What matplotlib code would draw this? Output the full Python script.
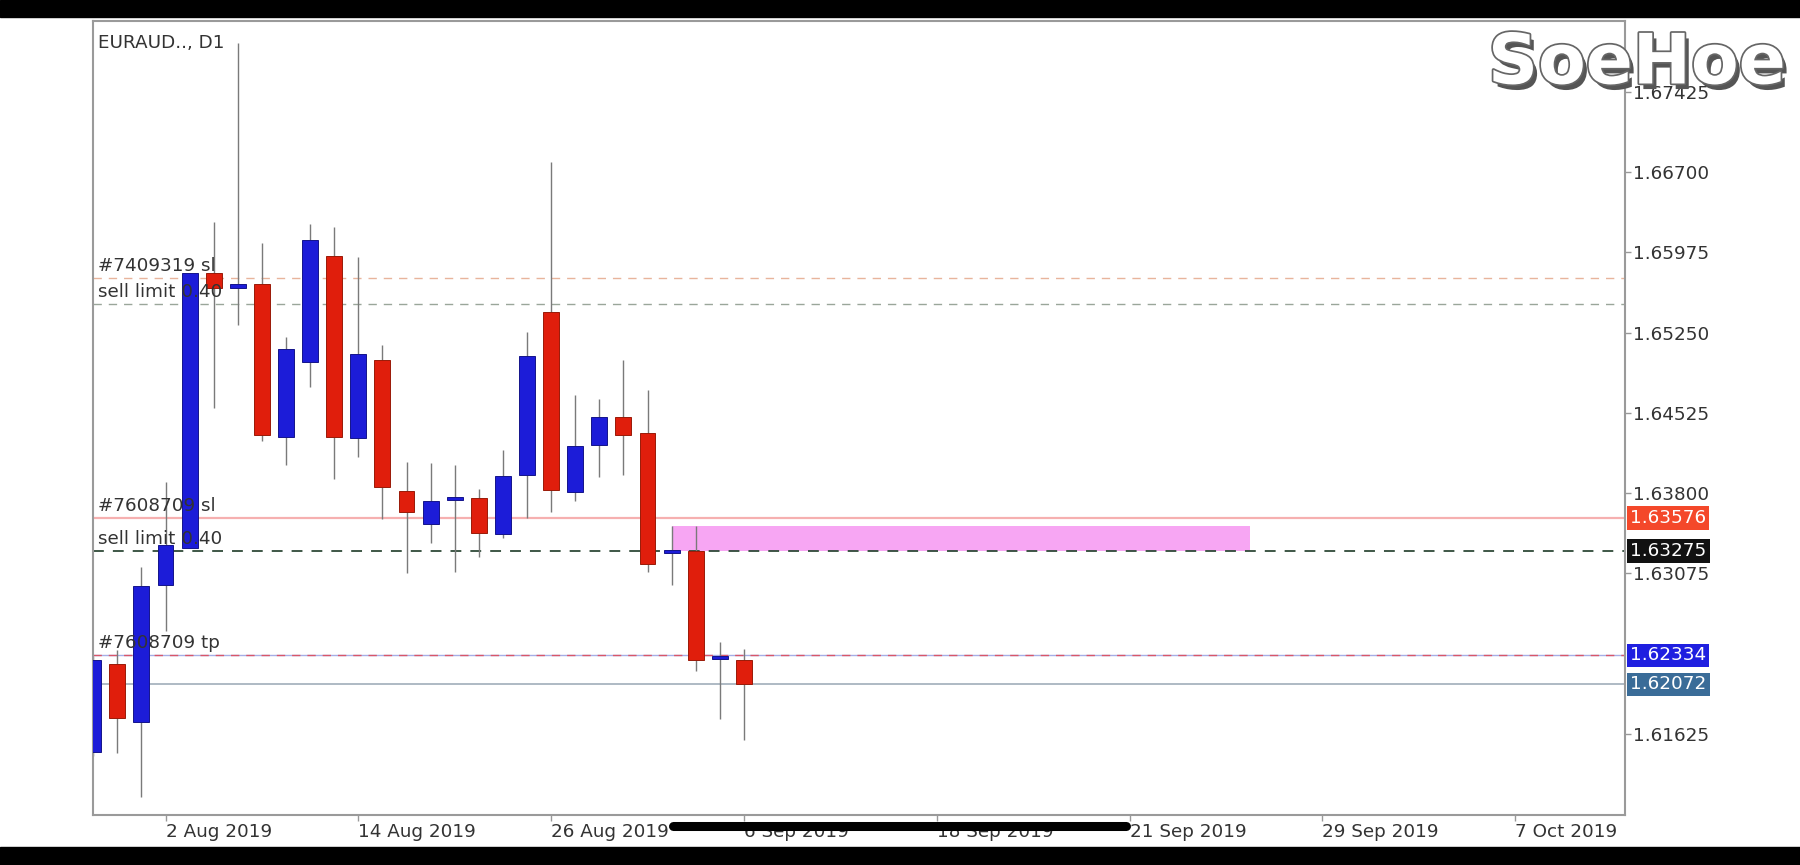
import matplotlib
matplotlib.use("Agg")
import matplotlib.pyplot as plt
import matplotlib.patheffects as pe
from matplotlib.patches import Rectangle
from matplotlib.lines import Line2D
from matplotlib.transforms import blended_transform_factory

# Daily EURAUD candles (one per bar, left to right)
opens = [1.61462, 1.62257, 1.61733, 1.62971, 1.63305, 1.65790, 1.65654, 1.65690,
         1.64308, 1.64986, 1.65943, 1.64299, 1.65004, 1.63820, 1.63522, 1.63739,
         1.63757, 1.63432, 1.63965, 1.65438, 1.63811, 1.64236, 1.64489, 1.64344,
         1.63262, 1.63278, 1.62303, 1.62294]
highs = [1.62330, 1.62384, 1.63134, 1.63902, 1.65790, 1.66251, 1.67868, 1.66061,
         1.65212, 1.66233, 1.66205, 1.65934, 1.65139, 1.64082, 1.64073, 1.64055,
         1.63838, 1.64191, 1.65257, 1.66793, 1.64688, 1.64652, 1.65004, 1.64733,
         1.63504, 1.63504, 1.62456, 1.62393]
lows = [1.61430, 1.61453, 1.61056, 1.62556, 1.63305, 1.64570, 1.65320, 1.64272,
        1.64055, 1.64760, 1.63929, 1.64128, 1.63567, 1.63080, 1.63351, 1.63089,
        1.63224, 1.63396, 1.63576, 1.63631, 1.63730, 1.63947, 1.63965, 1.63089,
        1.62971, 1.62194, 1.61761, 1.61571]
closes = [1.62294, 1.61770, 1.62962, 1.63333, 1.65790, 1.65654, 1.65690, 1.64326,
          1.65103, 1.66088, 1.64308, 1.65058, 1.63856, 1.63631, 1.63730, 1.63766,
          1.63441, 1.63956, 1.65040, 1.63829, 1.64227, 1.64489, 1.64326, 1.63161,
          1.63275, 1.62294, 1.62321, 1.62072]

# Date labels, one every 8 bars starting at bar 3
date_labels = ["2 Aug 2019", "14 Aug 2019", "26 Aug 2019", "6 Sep 2019",
               "18 Sep 2019", "21 Sep 2019", "29 Sep 2019", "7 Oct 2019"]
price_ticks = [1.67425, 1.66700, 1.65975, 1.65250, 1.64525, 1.63800, 1.63075, 1.61625]

# Order levels
level_7409319_sl = 1.65745
level_sell_limit_upper = 1.65510
level_7608709_sl = 1.63576
level_sell_limit = 1.63275
level_7608709_tp = 1.62334
level_bid = 1.62072

# Highlighted zone (bar range and price range)
zone_bars = [24, 48]
zone_prices = [1.63275, 1.63504]

BLUE = "#1c1cd8"
RED = "#e01e0c"
TEXT = "#333333"
FS = 13.2

W, H = 1800, 865
fig = plt.figure(figsize=(W / 100, H / 100), dpi=100)
fig.patch.set_facecolor("white")
ax = fig.add_axes([93 / W, 1 - 815 / H, 1532 / W, 794 / H])

# Zone
ax.add_patch(Rectangle((zone_bars[0], zone_prices[0]), zone_bars[1] - zone_bars[0],
                       zone_prices[1] - zone_prices[0], facecolor="#f7a6f3",
                       edgecolor="none", zorder=1))

# Horizontal levels
ax.axhline(level_7409319_sl, color="#e8b49c", lw=1.0, ls=(0, (6, 5)), zorder=1.5)
ax.axhline(level_sell_limit_upper, color="#9aa69a", lw=1.0, ls=(0, (6, 5)), zorder=1.5)
ax.axhline(level_7608709_sl, color="#f6b0b0", lw=1.6, zorder=1.5)
ax.axhline(level_sell_limit, color="#2f4a38", lw=1.3, ls=(0, (6, 5)), zorder=1.5)
ax.axhline(level_7608709_tp, color="#a6aee6", lw=1.0, zorder=1.5)
ax.axhline(level_7608709_tp, color="#d8566a", lw=1.0, ls=(0, (6, 5)), zorder=1.6)
ax.axhline(level_bid, color="#a8b4bf", lw=1.3, zorder=1.5)

# Candles
bar_x = list(range(len(opens)))
body_bottom = [min(o, c) for o, c in zip(opens, closes)]
body_height = [max(abs(c - o), 0.00025) for o, c in zip(opens, closes)]
face = [BLUE if c >= o else RED for o, c in zip(opens, closes)]
edge = ["#14148a" if c >= o else "#9a1a08" for o, c in zip(opens, closes)]
ax.vlines(bar_x, lows, highs, color="#7a7a7a", lw=1.0, zorder=2)
ax.bar(bar_x, body_height, bottom=body_bottom, width=0.66, color=face,
       edgecolor=edge, linewidth=0.7, zorder=3)

# Level captions on the left
captions = [("#7409319 sl", level_7409319_sl), ("sell limit 0.40", level_sell_limit_upper),
            ("#7608709 sl", level_7608709_sl), ("sell limit 0.40", level_sell_limit),
            ("#7608709 tp", level_7608709_tp)]
for txt, lvl in captions:
    ax.annotate(txt, xy=(0.0033, lvl), xycoords=("axes fraction", "data"),
                xytext=(0, 3), textcoords="offset pixels", va="bottom", ha="left",
                fontsize=FS, color=TEXT, zorder=5)

ax.text(0.003, 0.984, "EURAUD.., D1", transform=ax.transAxes, va="top", ha="left",
        fontsize=FS, color=TEXT)

# Price boxes on the right
bt = blended_transform_factory(ax.transAxes, ax.transData)
boxes = [(level_7608709_sl, "#f4482a"), (level_sell_limit, "#111111"),
         (level_7608709_tp, "#1f1fe0"), (level_bid, "#3a6c98")]
for lvl, col in boxes:
    ax.text(1.0035, lvl, f"{lvl:.5f}", transform=bt, va="center", ha="left",
            fontsize=FS, color="white", zorder=6,
            bbox=dict(boxstyle="square,pad=0.16", fc=col, ec="none"))

# Axes
ax.set_xlim(-0.01, 63.56)
ax.set_ylim(1.60893, 1.68066)
ax.yaxis.tick_right()
ax.set_yticks(price_ticks)
ax.set_yticklabels([f"{p:.5f}" for p in price_ticks])
ax.set_xticks(list(range(3, 3 + 8 * len(date_labels), 8)))
ax.set_xticklabels(date_labels)
for lab in ax.get_xticklabels():
    lab.set_ha("left")
ax.tick_params(axis="both", direction="out", length=4, width=1, color="#999999",
               labelsize=FS, labelcolor=TEXT, pad=1.5)
for s in ax.spines.values():
    s.set_color("#9a9a9a")
    s.set_linewidth(1.5)

# Screen frame: black bands and home indicator
fig.add_artist(Rectangle((0, 1 - 17 / H), 1, 17 / H, transform=fig.transFigure,
                         color="black", zorder=10))
fig.add_artist(Rectangle((0, 0), 1, 18 / H, transform=fig.transFigure,
                         color="black", zorder=10))
fig.add_artist(Line2D([673 / W, 1126 / W], [1 - 826 / H] * 2, transform=fig.transFigure,
                      color="black", lw=6.5, solid_capstyle="round", zorder=10))

# Watermark
fig.text(1637 / W, 1 - 64 / H, "SoeHoe", ha="center", va="center", fontsize=50,
         fontweight="bold", color="white", zorder=11,
         path_effects=[pe.withSimplePatchShadow(offset=(3, -4), shadow_rgbFace="#555555",
                                                alpha=1.0),
                       pe.withStroke(linewidth=2.5, foreground="#666666")])

fig.savefig("out.png", dpi=100, facecolor="white")
